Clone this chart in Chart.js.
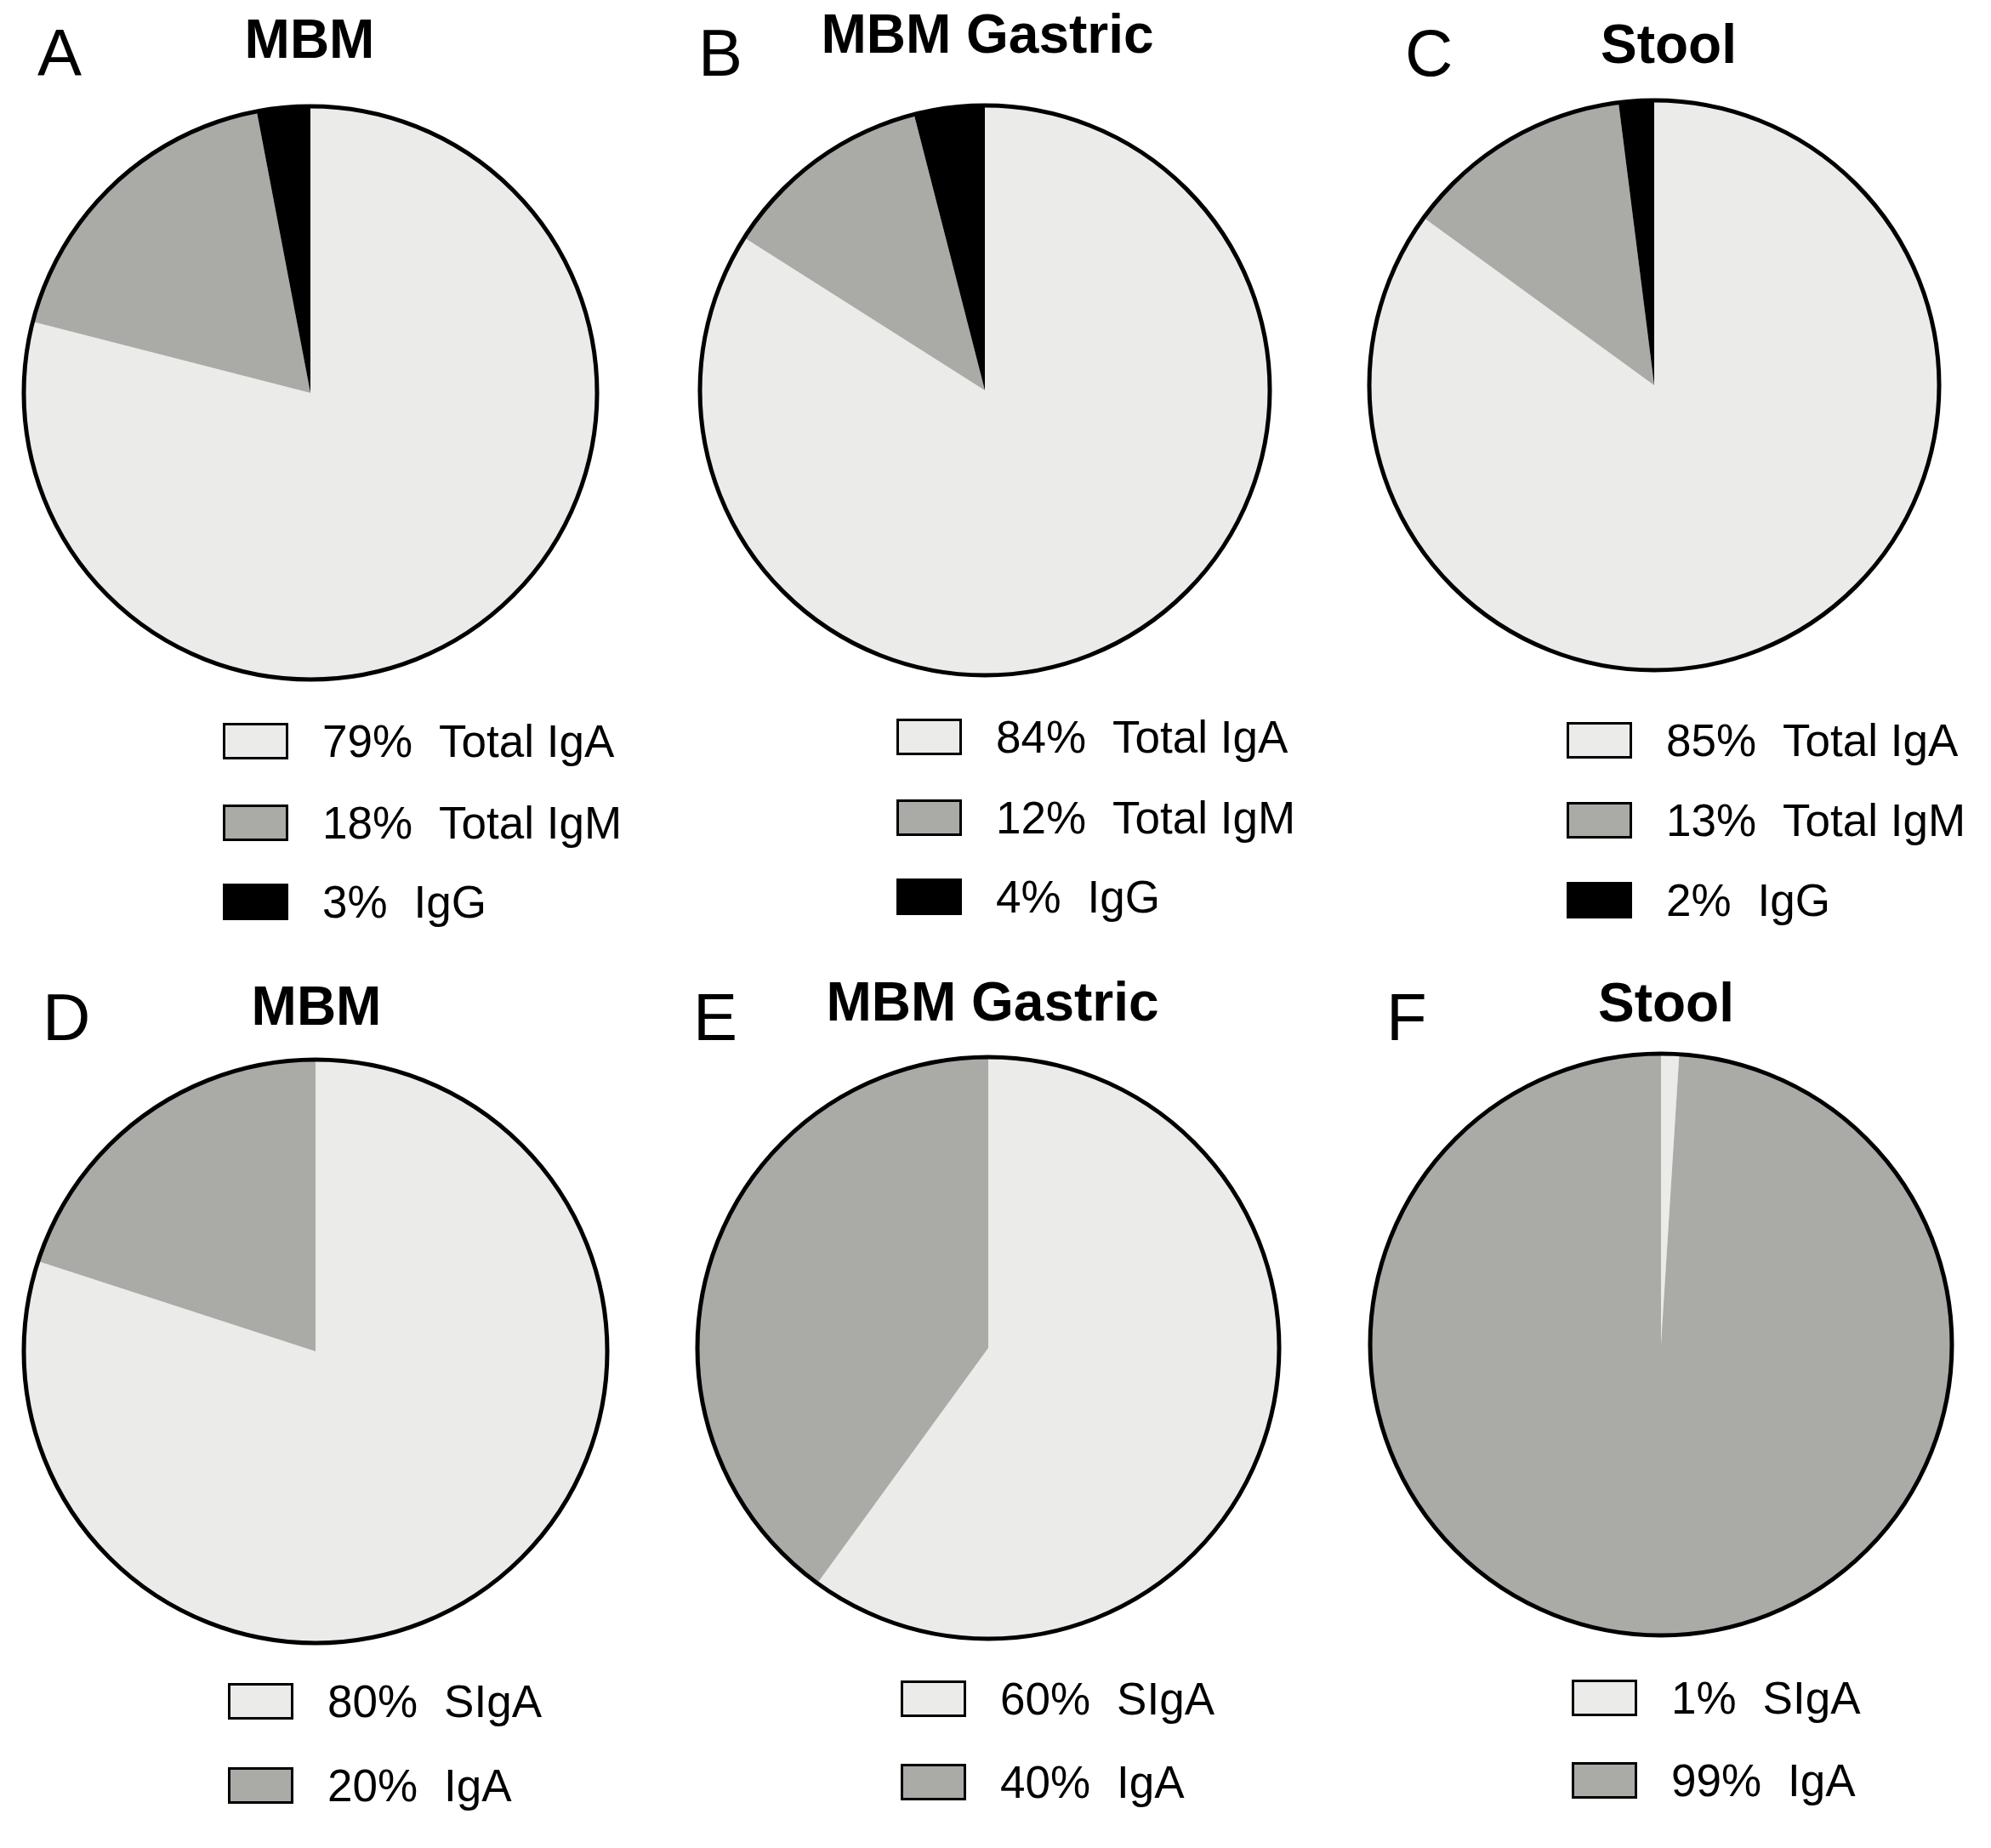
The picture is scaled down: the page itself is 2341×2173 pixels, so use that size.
<!DOCTYPE html>
<html>
<head>
<meta charset="utf-8">
<script src="https://cdn.jsdelivr.net/npm/chart.js@4"></script>
<style>
  body { margin: 0; background: #fff; }
  #page { position: relative; width: 2341px; height: 2173px; font-family: "Liberation Sans", Arial, sans-serif; color: #000; }
  .letter { position: absolute; font-size: 78px; line-height: 1; }
  .title { position: absolute; font-size: 64px; font-weight: bold; line-height: 1; transform: translateX(-50%); white-space: nowrap; }
  .pie { position: absolute; }
  .leg { position: absolute; font-size: 53px; line-height: 1; white-space: nowrap; }
  .leg .row { position: absolute; left: 0; display: flex; align-items: center; }
  .leg .box { width: 71px; height: 37px; border: 3.5px solid #000; margin-right: 40px; }
  .leg .pct { margin-right: 31px; }
</style>
</head>
<body>
<div id="page"></div>
<script>
// top row: total immunoglobulins
const totalLabels = ['Total IgA', 'Total IgM', 'IgG'];
const mbmTotal = [79, 18, 3];
const gastricTotal = [84, 12, 4];
const stoolTotal = [85, 13, 2];

// bottom row: secretory vs plain IgA
const secLabels = ['SIgA', 'IgA'];
const mbmSec = [80, 20];
const gastricSec = [60, 40];
const stoolSec = [1, 99];

const titles = ['MBM', 'MBM Gastric', 'Stool', 'MBM', 'MBM Gastric', 'Stool'];
const letters = ['A', 'B', 'C', 'D', 'E', 'F'];

const light = '#ebebea';
const grey = '#aaaba7';
const black = '#000000';

// where each panel sits on the page
const panels = [
  { cx: 365, cy: 462, r: 337, lx: 44, ly: 93, tx: 364, ty: 72, bx: 262, rows: [871, 967, 1060] },
  { cx: 1158, cy: 459, r: 335, lx: 821, ly: 93, tx: 1161, ty: 66, bx: 1054, rows: [866, 961, 1054] },
  { cx: 1945, cy: 453, r: 335, lx: 1652, ly: 93, tx: 1962, ty: 78, bx: 1842, rows: [870, 964, 1058] },
  { cx: 371, cy: 1589, r: 343, lx: 50, ly: 1227, tx: 372, ty: 1209, bx: 268, rows: [2000, 2099] },
  { cx: 1162, cy: 1585, r: 342, lx: 815, ly: 1227, tx: 1167, ty: 1204, bx: 1059, rows: [1997, 2095] },
  { cx: 1953, cy: 1581, r: 342, lx: 1630, ly: 1227, tx: 1959, ty: 1205, bx: 1848, rows: [1996, 2093] }
];

const series = [
  { labels: totalLabels, data: mbmTotal, colors: [light, grey, black] },
  { labels: totalLabels, data: gastricTotal, colors: [light, grey, black] },
  { labels: totalLabels, data: stoolTotal, colors: [light, grey, black] },
  { labels: secLabels, data: mbmSec, colors: [light, grey] },
  { labels: secLabels, data: gastricSec, colors: [light, grey] },
  { labels: secLabels, data: stoolSec, colors: [light, grey] }
];

// black ring round the whole pie, no lines between slices
const outline = {
  id: 'outline',
  afterDatasetsDraw(chart) {
    const arc = chart.getDatasetMeta(0).data[0];
    if (!arc) return;
    const c = chart.ctx;
    c.save();
    c.beginPath();
    c.arc(arc.x, arc.y, arc.outerRadius, 0, Math.PI * 2);
    c.lineWidth = 5;
    c.strokeStyle = '#000';
    c.stroke();
    c.restore();
  }
};

const page = document.getElementById('page');
const pad = 8;

panels.forEach((p, i) => {
  const s = series[i];

  const letter = document.createElement('div');
  letter.className = 'letter';
  letter.textContent = letters[i];
  letter.style.left = p.lx + 'px';
  letter.style.top = (p.ly - 70) + 'px';
  page.appendChild(letter);

  const title = document.createElement('div');
  title.className = 'title';
  title.textContent = titles[i];
  title.style.left = p.tx + 'px';
  title.style.top = (p.ty - 58) + 'px';
  page.appendChild(title);

  const size = 2 * (p.r + pad);
  const wrap = document.createElement('div');
  wrap.className = 'pie';
  wrap.style.left = (p.cx - p.r - pad) + 'px';
  wrap.style.top = (p.cy - p.r - pad) + 'px';
  wrap.style.width = size + 'px';
  wrap.style.height = size + 'px';
  const canvas = document.createElement('canvas');
  wrap.appendChild(canvas);
  page.appendChild(wrap);

  new Chart(canvas, {
    type: 'pie',
    data: {
      labels: s.labels,
      datasets: [{
        data: s.data,
        backgroundColor: s.colors,
        borderWidth: 0
      }]
    },
    options: {
      responsive: true,
      maintainAspectRatio: false,
      animation: false,
      layout: { padding: pad },
      plugins: {
        legend: { display: false },
        tooltip: { enabled: false }
      }
    },
    plugins: [outline]
  });

  const leg = document.createElement('div');
  leg.className = 'leg';
  leg.style.left = p.bx + 'px';
  leg.style.top = '0px';
  s.labels.forEach((lab, k) => {
    const row = document.createElement('div');
    row.className = 'row';
    row.style.top = (p.rows[k] - 22) + 'px';
    row.style.height = '44px';
    row.innerHTML = '<span class="box" style="background:' + s.colors[k] + '"></span>' +
      '<span class="pct">' + s.data[k] + '%</span><span>' + lab + '</span>';
    leg.appendChild(row);
  });
  page.appendChild(leg);
});
</script>
</body>
</html>
